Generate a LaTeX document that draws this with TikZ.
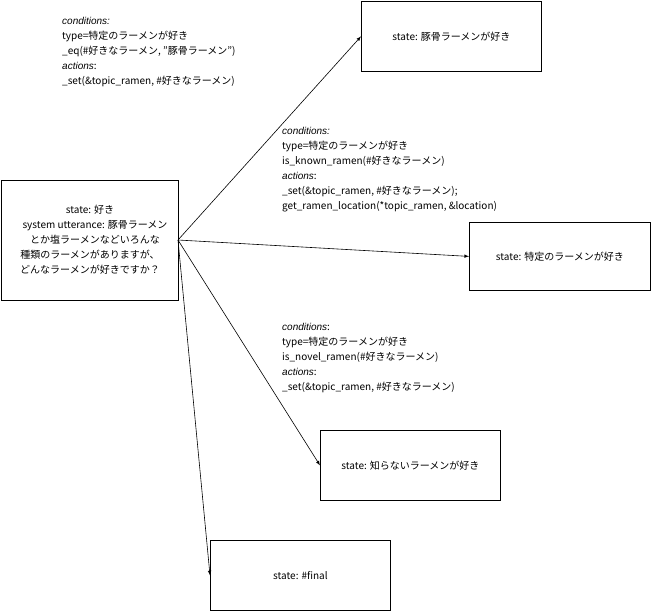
\documentclass[tikz,border=0pt]{standalone}
\usepackage{fontspec}
\setmainfont{Noto Sans CJK JP}
\newfontfamily\latfont{Liberation Sans}
\newcommand{\itl}[1]{{\latfont\itshape #1}}
\begin{document}
\begin{tikzpicture}[x=1pt,y=-1pt,
  box/.style={draw,thick,minimum width=180pt,minimum height=70pt,anchor=north west,font=\fontsize{10}{13}\selectfont},
  lab/.style={anchor=north west,align=left,inner sep=0pt,font=\fontsize{10}{15}\selectfont},
  arr/.style={-latex,semithick}]
\useasboundingbox (0,0) rectangle (651,611);
\node[box] (top) at (361,1) {state: 豚骨ラーメンが好き};
\node[box,minimum width=181pt,minimum height=68pt] (spec) at (469,222) {state: 特定のラーメンが好き};
\node[box] (unk) at (320,430) {state: 知らないラーメンが好き};
\node[box] (fin) at (210,540) {state: \#final};
\node[draw,thick,minimum width=177pt,minimum height=120pt,anchor=north west] (src) at (1,180) {};
\node[align=center,inner sep=0pt,font=\fontsize{10}{15}\selectfont] (srct) at (90,240) {state: 好き\\system utterance: 豚骨ラーメ\rlap{ン}\\とか塩ラーメンなどいろん\rlap{な}\\種類のラーメンがありますが、\\どんなラーメンが好きですか？};
\coordinate (o) at (178,240);
\draw[arr] (o) -- (top.west);
\draw[arr] (o) -- (spec.west);
\draw[arr] (o) -- (unk.west);
\draw[arr] (o) -- (fin.west);
\node[lab] (l1) at (62,17) {\itl{conditions:}\\type=特定のラーメンが好き\\\_eq(\#好きなラーメン, "豚骨ラーメン")\\\itl{actions}:\\\_set(\&topic\_ramen, \#好きなラーメン)};
\node[lab] (l2) at (282,127) {\itl{conditions:}\\type=特定のラーメンが好き\\is\_known\_ramen(\#好きなラーメン)\\\itl{actions}:\\\_set(\&topic\_ramen, \#好きなラーメン);\\get\_ramen\_location(*topic\_ramen, \&location)};
\node[lab] (l3) at (282,323) {\itl{conditions}:\\type=特定のラーメンが好き\\is\_novel\_ramen(\#好きなラーメン)\\\itl{actions}:\\\_set(\&topic\_ramen, \#好きなラーメン)};
\end{tikzpicture}
\end{document}
